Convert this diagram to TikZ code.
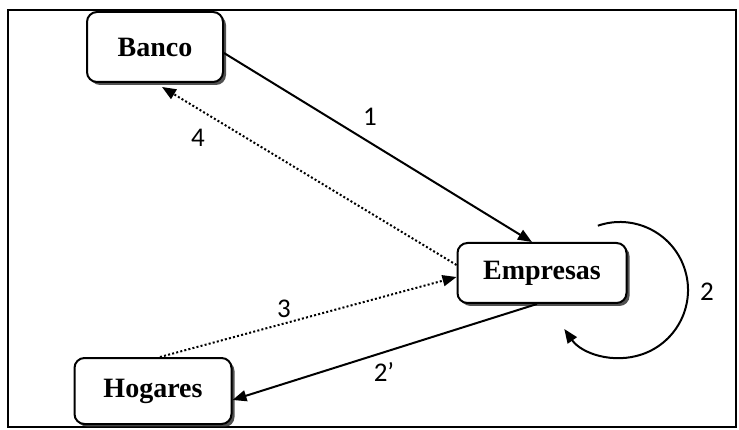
\documentclass[tikz,border=0pt]{standalone}
\usepackage{fontspec}
\setmainfont{Liberation Serif}
\newfontfamily\numfont{Carlito}
\usetikzlibrary{arrows.meta,shadows,calc}
\begin{document}
\begin{tikzpicture}[x=1pt,y=-1pt,
  box/.style={draw, line width=2pt, rounded corners=10pt, fill=white,
    font=\fontsize{28}{30}\selectfont\bfseries, inner sep=0pt,
    drop shadow={shadow xshift=3pt, shadow yshift=-3pt, fill=black!85, opacity=0.8}},
  flow/.style={line width=2pt, -{Triangle[length=14pt,width=11pt]}},
  dots/.style={flow, dash pattern=on 2pt off 2.2pt},
  lab/.style={font=\numfont\fontsize{27}{29}\selectfont, inner sep=0pt}]
\useasboundingbox (0,0) rectangle (739,430);
\draw[line width=2pt] (8,10) rectangle (736,427);

\node[box, minimum width=136pt, minimum height=70pt] (Banco) at (155,47) {Banco};
\node[box, minimum width=169pt, minimum height=60pt] (Empresas) at (542,273) {Empresas};
\node[box, minimum width=157pt, minimum height=66pt] (Hogares) at (153,391) {Hogares};

\draw[flow] ([yshift=-6pt]Banco.east) -- (Empresas.108);
\draw[dots] ([yshift=8pt]Empresas.west) -- ($(Banco.south)+(7,4)$);
\draw[dots] ([xshift=7pt]Hogares.north) -- ([yshift=-4pt]Empresas.west);
\draw[flow] ([xshift=-5pt]Empresas.south) -- ([yshift=-9pt]Hogares.east);

\coordinate (c2) at (620,290);
\draw[flow] ($(c2)+(-109:68)$) arc[start angle=-109, end angle=145, radius=68];

\node[lab] (l1) at (370,117) {1};
\node[lab] (l4) at (198,138) {4};
\node[lab] (l3) at (284,309) {3};
\node[lab] (l2p) at (384,372) {2’};
\node[lab] (l2) at (707,292) {2};
\end{tikzpicture}
\end{document}
